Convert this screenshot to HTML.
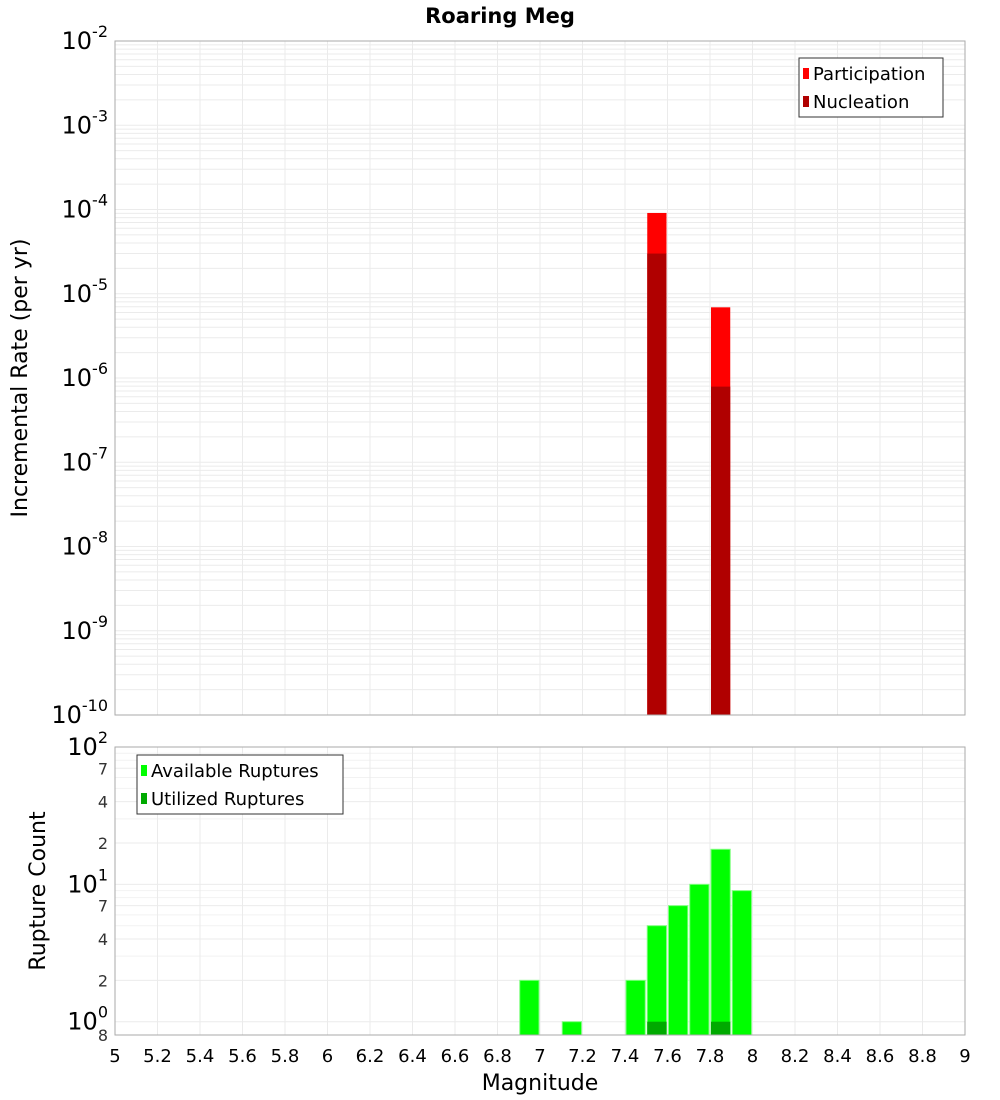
<!DOCTYPE html>
<html><head><meta charset="utf-8"><style>
body{margin:0;background:#fff;}
svg{display:block;font-family:"DejaVu Sans","Liberation Sans",sans-serif;}
</style></head><body>
<svg id="c" width="1000" height="1100" viewBox="0 0 1000 1100" xmlns="http://www.w3.org/2000/svg">
<text x="500" y="23" text-anchor="middle" font-size="21" font-weight="bold">Roaring Meg</text>
<g id="top"></g>
<g id="bot"></g>
<text transform="translate(27,378) rotate(-90)" text-anchor="middle" font-size="22">Incremental Rate (per yr)</text>
<text transform="translate(45,891) rotate(-90)" text-anchor="middle" font-size="22">Rupture Count</text>
<text x="540" y="1090" text-anchor="middle" font-size="22">Magnitude</text>
</svg>
<script>
const magnitudes=[6.95,7.15,7.45,7.55,7.65,7.75,7.85,7.95];
const participation=[0,0,0,9.1e-5,0,0,6.9e-6,0];
const nucleation=[0,0,0,3.0e-5,0,0,7.9e-7,0];
const available=[2,1,2,5,7,10,18,9];
const utilized=[0,0,0,1,0,0,1,0];
const xTicks=[5,5.2,5.4,5.6,5.8,6,6.2,6.4,6.6,6.8,7,7.2,7.4,7.6,7.8,8,8.2,8.4,8.6,8.8,9];
const topDecades=[-2,-3,-4,-5,-6,-7,-8,-9,-10];
const botMinor=[2,4,7,20,40,70];

const NS="http://www.w3.org/2000/svg";
const L=115,R=965;
const x=m=>L+(m-5)/4*(R-L);
const T1=41,B1=715;
const y1=v=>T1+(-2-Math.log10(v))/8*(B1-T1);
const T2=747,B2=1035,botMin=0.8;
const y2=v=>T2+(2-Math.log10(v))/(2-Math.log10(botMin))*(B2-T2);
function el(p,t,a){const e=document.createElementNS(NS,t);for(const k in a)e.setAttribute(k,a[k]);p.appendChild(e);return e;}
const gTop=document.getElementById('top'),gBot=document.getElementById('bot');

for(let d=-10;d<-2;d++){for(let k=1;k<10;k++){const v=k*Math.pow(10,d);const yy=y1(v);
 const g=el(gTop,'line',{x1:L,x2:R,y1:yy,y2:yy,stroke:'#ebebeb','stroke-width':1});
 
 }}
xTicks.forEach(t=>{const g=el(gTop,'line',{x1:x(t),x2:x(t),y1:T1,y2:B1,stroke:'#ebebeb'});
 
 });
[1,10,100].concat(botMinor).forEach(v=>{const yy=y2(v);const g=el(gBot,'line',{x1:L,x2:R,y1:yy,y2:yy,stroke:'#ebebeb'});
 
 });
[3,5,6,8,9,30,50,60,80,90].forEach(v=>{const yy=y2(v);const g=el(gBot,'line',{x1:L,x2:R,y1:yy,y2:yy,stroke:'#f2f2f2'});
 
 });
xTicks.forEach(t=>{const g=el(gBot,'line',{x1:x(t),x2:x(t),y1:T2,y2:B2,stroke:'#ebebeb'});
 
 });

const bw=(x(5.1)-x(5))-2;
magnitudes.forEach((m,i)=>{
 if(participation[i]>0){const yy=y1(participation[i]);const b=el(gTop,'rect',{x:x(m)-bw/2,y:yy,width:bw,height:B1-yy,fill:'#ff0000'});
  
  }
 if(nucleation[i]>0){const yy=y1(nucleation[i]);const b=el(gTop,'rect',{x:x(m)-bw/2,y:yy,width:bw,height:B1-yy,fill:'#b00000'});
  
  }
});
magnitudes.forEach((m,i)=>{
 if(available[i]>0){const yy=y2(available[i]);const b=el(gBot,'rect',{x:x(m)-bw/2,y:yy,width:bw,height:B2-yy,fill:'#00ff00',stroke:'#80ff80','stroke-width':1});
  
  }
 if(utilized[i]>0){const yy=y2(utilized[i]);const b=el(gBot,'rect',{x:x(m)-bw/2,y:yy,width:bw,height:B2-yy,fill:'#00aa00'});
  
  }
});
[[gTop,T1,B1],[gBot,T2,B2]].forEach(([g,t,b])=>{const f=el(g,'rect',{x:L,y:t,width:R-L,height:b-t,fill:'none',stroke:'#aaaaaa'});
 
 });
topDecades.forEach(d=>{const t=el(gTop,'text',{x:108,y:y1(Math.pow(10,d))+8,'text-anchor':'end','font-size':24});
 
 
 t.innerHTML='10<tspan dy="-12" font-size="16">'+d+'</tspan>';});
[[100,'2'],[10,'1'],[1,'0']].forEach(([v,e])=>{const t=el(gBot,'text',{x:108,y:y2(v)+8,'text-anchor':'end','font-size':24});
 
 
 t.innerHTML='10<tspan dy="-12" font-size="16">'+e+'</tspan>';});
botMinor.concat([botMin]).forEach(v=>{const s=v<1?String(Math.round(v*10)):String(v)[0];const t=el(gBot,'text',{x:108,y:y2(v)+6,'text-anchor':'end','font-size':16,fill:'#333'});
 
 
 t.textContent=s;});
xTicks.forEach(v=>{const t=el(gBot,'text',{x:x(v),y:1062,'text-anchor':'middle','font-size':18});
 
 
 t.textContent=String(v);});
function legend(g,x0,y0,w,items){const b=el(g,'rect',{x:x0,y:y0,width:w,height:59,fill:'#fff',stroke:'#333'});
 
 
 items.forEach(([c,lab],i)=>{const yy=y0+15+i*28;const s=el(g,'rect',{x:x0+4,y:yy-5,width:6,height:11,fill:c});
  
  
  const t=el(g,'text',{x:x0+14,y:yy+7,'font-size':18});
  
  
  t.textContent=lab;});}
legend(gTop,799,58,144,[['#ff0000','Participation'],['#b00000','Nucleation']]);
legend(gBot,137,755,206,[['#00ff00','Available Ruptures'],['#00aa00','Utilized Ruptures']]);
</script>
</body></html>
